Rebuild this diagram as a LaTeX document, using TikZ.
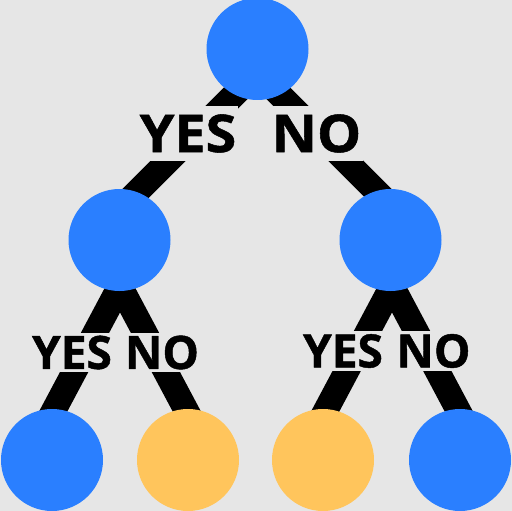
\documentclass[tikz,border=0pt]{standalone}
\usepackage{fontspec}
\newfontfamily\answerfont{Open Sans}[FakeBold=1]
\newfontfamily\topanswerfont{Open Sans}[FakeBold=1,FakeStretch=1.07]
\usetikzlibrary{calc}
\pgfdeclarelayer{background}
\pgfsetlayers{background,main}
\definecolor{bgGray}{HTML}{E6E6E6}
\definecolor{leafBlue}{HTML}{2A7FFF}
\definecolor{leafOrange}{HTML}{FFC55C}
\tikzset{
  tree node/.style={
    circle,minimum size=102pt,inner sep=0pt,
  },
  blue node/.style={tree node,fill=leafBlue},
  orange node/.style={tree node,fill=leafOrange},
  branch/.style={line width=25pt},
  answer/.style={fill=bgGray,inner xsep=2pt,inner ysep=3pt,
    font=\answerfont\fontsize{46pt}{46pt}\bfseries},
  top answer/.style={answer,inner ysep=8pt,
    font=\topanswerfont\fontsize{52pt}{52pt}\bfseries},
}

\begin{document}
\begin{tikzpicture}[x=1pt,y=-1pt]
        \useasboundingbox (0,0) rectangle (512,511);
        \node[blue node] (root) at (257.5,49) {};
        \node[blue node] (left) at (119.5,240) {};
        \node[blue node] (right) at (390.5,240) {};
        \node[blue node] (ll) at (52,460) {};
        \node[orange node] (lr) at (188,460) {};
        \node[orange node] (rl) at (323,460) {};
        \node[blue node] (rr) at (460,460) {};
        % branch ends, hidden under the circles
        \coordinate (rootL) at ($(root)+(16.5,6)$);
        \coordinate (rootR) at ($(root)+(-17.5,6)$);
        \coordinate (leftIn) at ($(left)+(-15.5,-15)$);
        \coordinate (rightIn) at ($(right)+(17.5,-17)$);
        \coordinate (leftL) at ($(left)+(18.5,12)$);
        \coordinate (leftR) at ($(left)+(-17.5,12)$);
        \coordinate (rightL) at ($(right)+(19.5,12)$);
        \coordinate (rightR) at ($(right)+(-16.5,12)$);
        \coordinate (llIn) at ($(ll)+(-14,-20)$);
        \coordinate (lrIn) at ($(lr)+(14,-20)$);
        \coordinate (rlIn) at ($(rl)+(-13,-20)$);
        \coordinate (rrIn) at ($(rr)+(14,-20)$);
        \begin{pgfonlayer}{background}
            \fill[bgGray] (0,0) rectangle (512,511);
            \draw[branch] (rootL) -- (leftIn);
            \draw[branch] (rootR) -- (rightIn);
            \draw[branch] (leftL) -- (llIn);
            \draw[branch] (leftR) -- (lrIn);
            \draw[branch] (rightL) -- (rlIn);
            \draw[branch] (rightR) -- (rrIn);
        \end{pgfonlayer}
        \node[top answer] (yesTop) at (188,133.5) {YES};
        \node[top answer] (noTop) at (316.5,133.5) {NO};
        \node[answer] (yesLeft) at (72,352.5) {YES};
        \node[answer] (noLeft) at (162,352.5) {NO};
        \node[answer] (yesRight) at (343,351) {YES};
        \node[answer] (noRight) at (433.5,351) {NO};
    \end{tikzpicture}
\end{document}
